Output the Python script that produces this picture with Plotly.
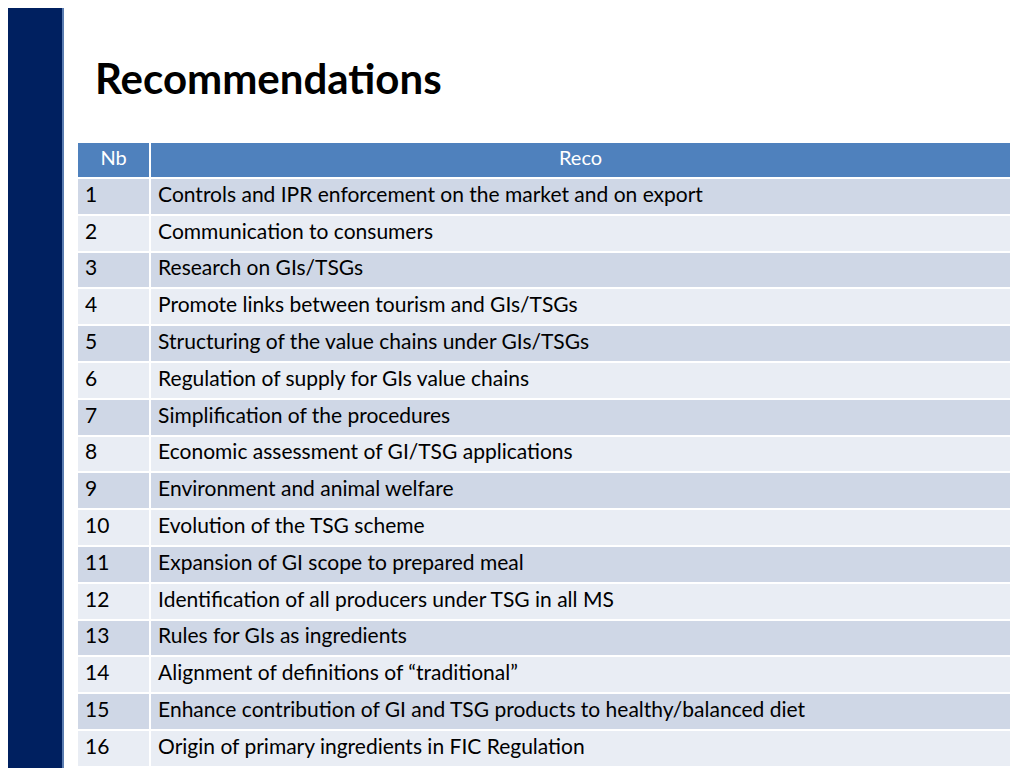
import plotly.graph_objects as go

nb = [str(i) for i in range(1, 17)]
reco = [
    "Controls and IPR enforcement on the market and on export",
    "Communication to consumers",
    "Research on GIs/TSGs",
    "Promote links between tourism and GIs/TSGs",
    "Structuring of the value chains under GIs/TSGs",
    "Regulation of supply for GIs value chains",
    "Simplification of the procedures",
    "Economic assessment of GI/TSG applications",
    "Environment and animal welfare",
    "Evolution of the TSG scheme",
    "Expansion of GI scope to prepared meal",
    "Identification of all producers under TSG in all MS",
    "Rules for GIs as ingredients",
    "Alignment of definitions of \u201ctraditional\u201d",
    "Enhance contribution of GI and TSG products to healthy/balanced diet",
    "Origin of primary ingredients in FIC Regulation",
]

row_colors = ["#CFD7E6" if i % 2 == 0 else "#E9EDF4" for i in range(len(nb))]

# the page adds an 8px body margin, so positions are shifted back by 8px
off = 8
W, H = 1024, 768

fig = go.Figure(go.Table(
    domain=dict(x=[(77 - off) / W, (1011 - off) / W], y=[0, 1 - (142 - off) / H]),
    columnwidth=[73, 860],
    header=dict(values=["Nb", "Reco"], fill_color="#4F81BD",
                line=dict(color="white", width=2), align="center", height=36,
                font=dict(family="Lato", size=20, color="white")),
    cells=dict(values=[nb, reco], fill_color=[row_colors, row_colors],
               line=dict(color="white", width=2), align="left", height=36.8,
               font=dict(family="Lato", size=21, color="black")),
))

fig.add_shape(type="rect", xref="paper", yref="paper", x0=-0.02, x1=(62 - off) / W, y0=0, y1=1.02,
              fillcolor="#002060", line_width=0)
fig.add_shape(type="rect", xref="paper", yref="paper", x0=(62 - off) / W, x1=(64 - off) / W, y0=0, y1=1.02,
              fillcolor="#5B7DB1", line_width=0)
fig.add_annotation(text="<b>Recommendations</b>", xref="paper", yref="paper",
                   x=(93 - off) / W, y=1 - (78 - off) / H, xanchor="left", yanchor="middle",
                   showarrow=False, font=dict(family="Lato", size=42, color="black"))

fig.update_layout(width=W, height=H, margin=dict(l=0, r=0, t=0, b=0),
                  paper_bgcolor="white", plot_bgcolor="white")
fig.write_html("out.html")
